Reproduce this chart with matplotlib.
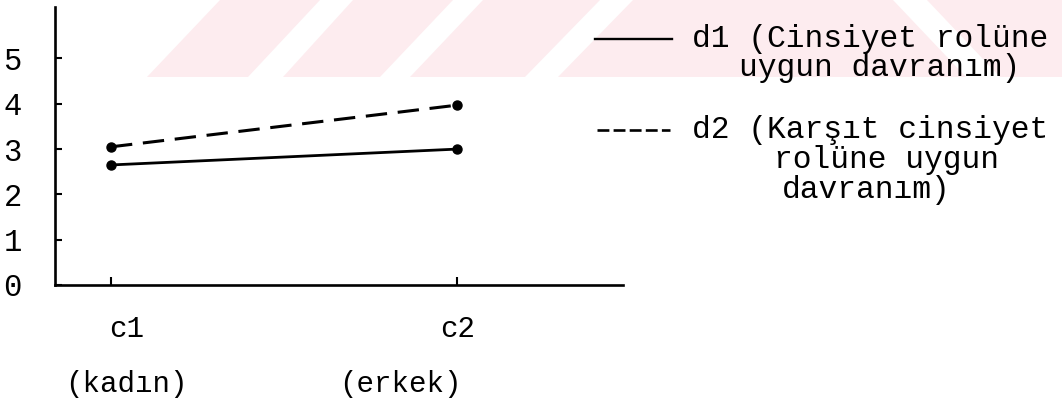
import matplotlib
matplotlib.use('Agg')
import matplotlib.pyplot as plt
from matplotlib.lines import Line2D
from matplotlib.patches import Polygon

plt.rcParams['font.family'] = ['Liberation Mono', 'DejaVu Sans Mono']

# data
cats = ['c1', 'c2']
groups = ['(kadın)', '(erkek)']
yticks = [0, 1, 2, 3, 4, 5]
d1 = [2.65, 3.0]
d2 = [3.05, 3.97]
d1_label = ['d1 (Cinsiyet rolüne', 'uygun davranım)']
d2_label = ['d2 (Karşıt cinsiyet', 'rolüne uygun', 'davranım)']

W, H = 1062, 405
fig = plt.figure(figsize=(W / 100, H / 100), dpi=100)

def fx(px):
    return px / W

def fy(py):
    return 1 - py / H

# faint pink watermark band at the top of the scan
pink = '#fdecef'
shapes = [
    [(147, 77), (220, 0), (320, 0), (248, 77)],
    [(283, 77), (353, 0), (453, 0), (380, 77)],
    [(410, 77), (483, 0), (600, 0), (525, 77)],
    [(558, 77), (633, 0), (893, 0), (966, 77)],
    [(1000, 77), (927, 0), (1062, 0), (1062, 77)],
]
for s in shapes:
    fig.add_artist(Polygon([(fx(a), fy(b)) for a, b in s], closed=True,
                           facecolor=pink, edgecolor='none', zorder=0))

# axes: y=0 at px 285, 45.3 px per unit; c1 at px 111, c2 at px 457
ax = fig.add_axes([fx(55), fy(285), fx(623) - fx(55), fy(7) - fy(285)])
ax.patch.set_alpha(0)
xs = [1, 2]
ax.set_xlim(1 - 56 / 346, 2 + 166 / 346)
ax.set_ylim(0, 278 / 45.3)

ax.plot(xs, d1, color='black', lw=2.0, marker='o', ms=6.5)
ax.plot(xs, d2, color='black', lw=2.2, dashes=(7, 3.5), marker='o', ms=6.5)

for side in ['top', 'right']:
    ax.spines[side].set_visible(False)
for side in ['left', 'bottom']:
    ax.spines[side].set_linewidth(1.9)

ax.set_yticks(yticks)
ax.set_yticklabels([str(v) for v in yticks], fontsize=22)
ax.tick_params(axis='y', direction='in', length=5, width=1.5, pad=24)
ax.set_xticks(xs)
ax.set_xticklabels([])
ax.tick_params(axis='x', direction='in', length=6, width=1.5)

cat_dx = [16, 1]
grp_dx = [15, -57]
for i, x in enumerate(xs):
    ax.annotate(cats[i], xy=(x, 0), xycoords=('data', 'axes fraction'),
                xytext=(cat_dx[i], -44), textcoords='offset pixels',
                ha='center', va='center', fontsize=21)
    ax.annotate(groups[i], xy=(x, 0), xycoords=('data', 'axes fraction'),
                xytext=(grp_dx[i], -99), textcoords='offset pixels',
                ha='center', va='center', fontsize=21)

# hand-made legend on the right
fig.add_artist(Line2D([fx(595), fx(672)], [fy(39), fy(39)], color='black', lw=1.7))
fig.add_artist(Line2D([fx(597), fx(670)], [fy(130), fy(130)], color='black', lw=1.9,
                      dashes=(4.5, 1.6)))
for txt, x, y in zip(d1_label, [692, 739], [39, 68]):
    fig.text(fx(x), fy(y), txt, ha='left', va='center', fontsize=22.5)
for txt, x, y in zip(d2_label, [692, 774, 782], [130, 160, 190]):
    fig.text(fx(x), fy(y), txt, ha='left', va='center', fontsize=22.5)

fig.savefig('out.png', dpi=100)
